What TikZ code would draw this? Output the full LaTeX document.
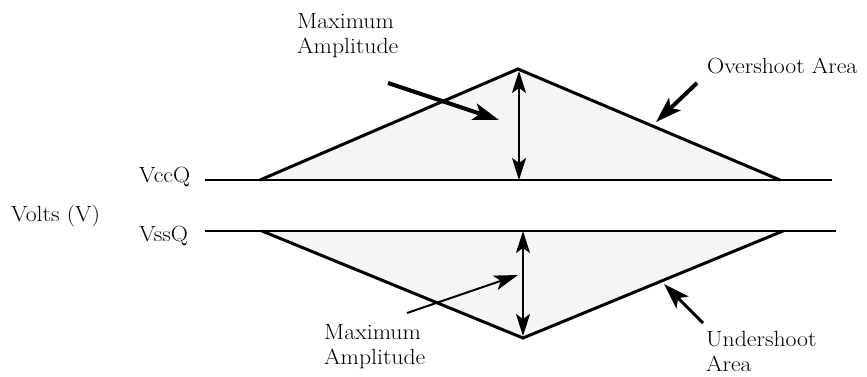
\documentclass[tikz,border=0pt]{standalone}
\usepackage{fontspec}
\setmainfont[FakeStretch=1.08]{Latin Modern Roman}
\usetikzlibrary{arrows.meta}
\definecolor{lightfill}{HTML}{F5F5F5}
\begin{document}
\begin{tikzpicture}[x=1pt,y=-1pt,
  lbl/.style={inner sep=0pt,font=\fontsize{22}{24.5}\selectfont,align=left,anchor=base west},
  edge/.style={line width=3pt,line join=miter},
  rail/.style={line width=2pt},
  dim/.style={line width=1.8pt,{Stealth[length=22pt,width=14pt,inset=5pt]}-{Stealth[length=22pt,width=14pt,inset=5pt]}},
  pointer/.style={-{Stealth[length=26pt,width=17pt,inset=6pt]}}]
\useasboundingbox (0,0) rectangle (867,376);
% geometry
\coordinate (uL) at (260,180);
\coordinate (uT) at (518,69);
\coordinate (uR) at (780,180);
\coordinate (lL) at (262,231);
\coordinate (lB) at (523,338);
\coordinate (lR) at (783,231);
\coordinate (ccA) at (205,180);
\coordinate (ccB) at (832,180);
\coordinate (ssA) at (205,231);
\coordinate (ssB) at (836,231);
\fill[lightfill] (uL) -- (uT) -- (uR) -- cycle;
\fill[lightfill] (lL) -- (lB) -- (lR) -- cycle;
\draw[edge] (uL) -- (uT) -- (uR);
\draw[edge] (lL) -- (lB) -- (lR);
\draw[rail] (ccA) -- (ccB);
\draw[rail] (ssA) -- (ssB);
% dimension arrows
\coordinate (d1a) at (519,71);
\coordinate (d1b) at (519,180);
\coordinate (d2a) at (523,231);
\coordinate (d2b) at (523,336);
\draw[dim] (d1a) -- (d1b);
\draw[dim] (d2a) -- (d2b);
% labels (base = baseline of last line)
\node[lbl] (vcc) at (139,182) {VccQ};
\node[lbl] (vss) at (139,241) {VssQ};
\node[lbl] (volts) at (11,221) {Volts (V)};
\node[lbl] (maxu) at (297,53) {Maximum\\Amplitude};
\node[lbl] (maxl) at (324,364) {Maximum\\Amplitude};
\node[lbl] (over) at (707,73) {Overshoot Area};
\node[lbl] (under) at (706,371) {Undershoot\\Area};
% pointers
\coordinate (p1s) at (388,83);
\coordinate (p1e) at (499,120);
\coordinate (p2s) at (407,313);
\coordinate (p2e) at (518,275);
\coordinate (p3s) at (697,83);
\coordinate (p3e) at (656,122);
\coordinate (p4s) at (703,323);
\coordinate (p4e) at (664,284);
\draw[pointer,line width=4pt] (p1s) -- (p1e);
\draw[line width=2pt,-{Stealth[length=24pt,width=15pt,inset=6pt]}] (p2s) -- (p2e);
\draw[pointer,line width=4pt] (p3s) -- (p3e);
\draw[pointer,line width=3pt] (p4s) -- (p4e);
\end{tikzpicture}
\end{document}
